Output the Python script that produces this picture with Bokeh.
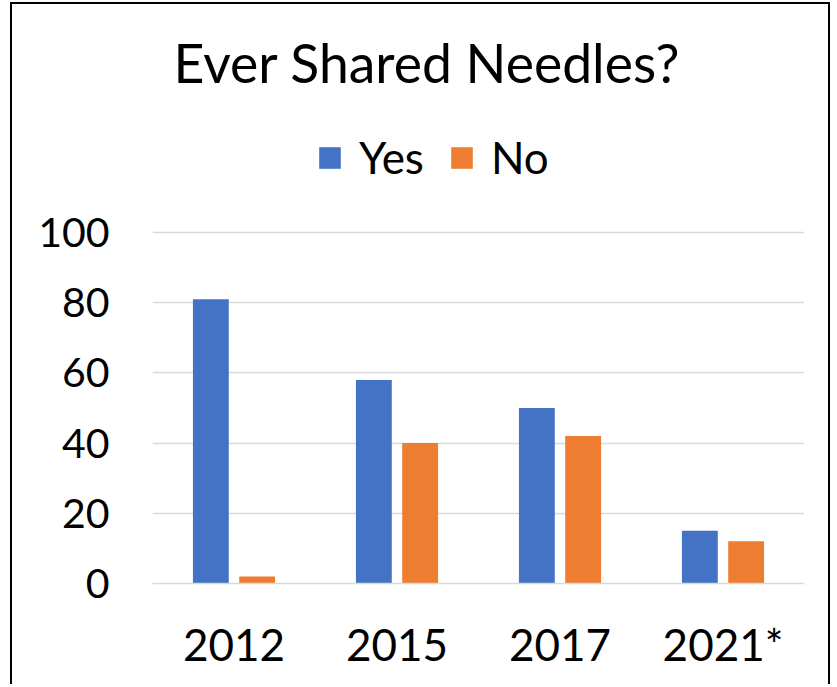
from bokeh.plotting import figure
from bokeh.models import Range1d, FactorRange, FixedTicker, Legend, LegendItem, Title
from bokeh.transform import dodge
from bokeh.embed import file_html
from bokeh.resources import INLINE
from bokeh.models import ColumnDataSource

years = ["2012", "2015", "2017", "2021*"]
yes_vals = [81, 58, 50, 15]
no_vals = [2, 40, 42, 12]
y_ticks = [0, 20, 40, 60, 80, 100]

FONT = "Lato"
BLUE = "#4472C4"
ORANGE = "#ED7D31"
GRID = "#D9D9D9"

src = ColumnDataSource(dict(year=years, yes=yes_vals, no=no_vals))

# headroom above 100 leaves space for the legend inside the frame
p = figure(x_range=FactorRange(*years), y_range=Range1d(0, 135.3),
           width=820, height=682, output_backend="svg", toolbar_location=None,
           min_border_left=140, min_border_right=28, min_border_top=104, min_border_bottom=103)
p.styles = {"margin-left": "10px", "margin-top": "2px",
            "border-top": "2px solid black", "border-left": "2px solid black",
            "border-right": "2px solid black"}

r_yes = p.vbar(x=dodge("year", -0.142, range=p.x_range), top="yes", width=0.22,
               source=src, fill_color=BLUE, line_color=None)
r_no = p.vbar(x=dodge("year", 0.142, range=p.x_range), top="no", width=0.22,
              source=src, fill_color=ORANGE, line_color=None)

p.title = Title(text="Ever Shared Needles?", align="left", offset=21, text_font=FONT,
                text_font_size="53.5px", text_font_style="normal", text_color="black",
                standoff=29)

legend = Legend(items=[LegendItem(label="Yes", renderers=[r_yes]),
                       LegendItem(label="No", renderers=[r_no])],
                orientation="horizontal", location=(164, 400),
                label_text_font=FONT, label_text_font_size="44px", label_text_color="black",
                glyph_width=27, glyph_height=27, label_standoff=16, spacing=24,
                border_line_color=None, background_fill_alpha=0, padding=4, margin=0)
p.add_layout(legend, "center")

p.outline_line_color = None
p.xgrid.grid_line_color = None
p.ygrid.grid_line_color = GRID
p.ygrid.grid_line_width = 1.5

p.yaxis.ticker = FixedTicker(ticks=y_ticks)
p.yaxis.axis_line_color = None
p.yaxis.major_tick_line_color = None
p.yaxis.minor_tick_line_color = None
p.yaxis.major_label_text_font = FONT
p.yaxis.major_label_text_font_size = "41px"
p.yaxis.major_label_text_color = "black"
p.yaxis.major_label_standoff = 37

p.xaxis.axis_line_color = GRID
p.xaxis.axis_line_width = 1.5
p.xaxis.major_tick_line_color = None
p.xaxis.minor_tick_line_color = None
p.xaxis.major_label_text_font = FONT
p.xaxis.major_label_text_font_size = "44px"
p.xaxis.major_label_text_color = "black"
p.xaxis.major_label_standoff = 28

open("out.html", "w").write(file_html(p, INLINE))
